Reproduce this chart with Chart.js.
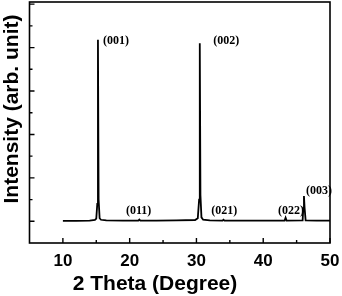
<!DOCTYPE html>
<html>
<head>
<meta charset="utf-8">
<script src="https://cdn.jsdelivr.net/npm/chart.js@4/dist/chart.umd.min.js"></script>
<style>
  html, body { margin: 0; padding: 0; background: #fff; }
  #wrap { width: 342px; height: 296px; }
</style>
</head>
<body>
<div id="wrap"><canvas id="c" width="342" height="296"></canvas></div>
<script>
// ---- data ----
const theta = [10.0, 12.0, 14.0, 14.8, 15.0, 15.15, 15.25, 15.35, 15.5, 15.7, 16.5, 19.0,
  21.3, 21.45, 21.6, 24.0, 27.0, 29.8, 30.2, 30.4, 30.5, 30.6, 30.75, 31.0, 32.0,
  33.9, 34.05, 34.2, 37.0, 40.0, 43.2, 43.35, 43.5, 45.9, 46.0, 46.1, 46.2, 46.35, 48.0, 50.0];
const intensity = [0.01, 0.01, 0.015, 0.03, 0.06, 0.4, 4.18, 0.5, 0.07, 0.035, 0.02, 0.015,
  0.015, 0.04, 0.015, 0.015, 0.02, 0.03, 0.07, 0.5, 4.10, 0.6, 0.09, 0.035, 0.02,
  0.015, 0.035, 0.015, 0.015, 0.015, 0.015, 0.08, 0.015, 0.02, 0.3, 0.58, 0.3, 0.02, 0.015, 0.015];

const xTickValues = [10, 20, 30, 40, 50];
const xMinorValues = [15, 25, 35, 45];
const yTickValues = [0, 1, 2, 3, 4, 5];
const yMinorValues = [0.5, 1.5, 2.5, 3.5, 4.5];

const peakLabels = ['(001)', '(002)', '(011)', '(021)', '(022)', '(003)'];
const peakLabelTheta = [16.0, 32.5, 19.45, 32.2, 42.2, 46.4];
const peakLabelIntensity = [4.15, 4.15, 0.25, 0.25, 0.25, 0.69];

const xTitle = '2 Theta (Degree)';
const yTitle = 'Intensity (arb. unit)';

// ---- plugin: frame, inward ticks, annotations, titles ----
const decor = {
  id: 'decor',
  afterDatasetsDraw(chart) {
    const ctx = chart.ctx;
    const a = chart.chartArea;
    const xs = chart.scales.x, ys = chart.scales.y;
    ctx.save();
    ctx.strokeStyle = '#000';
    ctx.lineWidth = 1.6;
    ctx.strokeRect(a.left, a.top, a.right - a.left, a.bottom - a.top);
    ctx.lineWidth = 1.4;
    ctx.beginPath();
    xTickValues.forEach(v => { const p = xs.getPixelForValue(v); ctx.moveTo(p, a.bottom); ctx.lineTo(p, a.bottom - 5); });
    xMinorValues.forEach(v => { const p = xs.getPixelForValue(v); ctx.moveTo(p, a.bottom); ctx.lineTo(p, a.bottom - 3); });
    yTickValues.forEach(v => { const p = ys.getPixelForValue(v); ctx.moveTo(a.left, p); ctx.lineTo(a.left + 5, p); });
    yMinorValues.forEach(v => { const p = ys.getPixelForValue(v); ctx.moveTo(a.left, p); ctx.lineTo(a.left + 3, p); });
    ctx.stroke();

    ctx.fillStyle = '#000';
    ctx.font = 'bold 12px "Liberation Serif", "Times New Roman", serif';
    ctx.textAlign = 'left';
    ctx.textBaseline = 'middle';
    peakLabels.forEach((t, i) => {
      ctx.fillText(t, xs.getPixelForValue(peakLabelTheta[i]), ys.getPixelForValue(peakLabelIntensity[i]));
    });

    ctx.font = 'bold 21px "Liberation Sans", Arial, sans-serif';
    ctx.textAlign = 'center';
    ctx.textBaseline = 'middle';
    ctx.fillText(xTitle, 155, 284);
    ctx.translate(12, 109);
    ctx.rotate(-Math.PI / 2);
    ctx.fillText(yTitle, 0, 0);
    ctx.restore();
  }
};

new Chart(document.getElementById('c'), {
  type: 'line',
  data: {
    datasets: [{
      data: theta.map((t, i) => ({ x: t, y: intensity[i] })),
      borderColor: '#000',
      borderWidth: 1.8,
      pointRadius: 0,
      tension: 0,
      fill: false
    }]
  },
  options: {
    responsive: false,
    animation: false,
    events: [],
    layout: { padding: { top: 2, right: 0, left: 0, bottom: 0 } },
    plugins: { legend: { display: false }, tooltip: { enabled: false } },
    scales: {
      x: {
        type: 'linear',
        min: 5, max: 50,
        afterBuildTicks: s => { s.ticks = xTickValues.map(v => ({ value: v })); },
        afterFit: s => { s.height = 53; s.paddingRight = 12; },
        grid: { display: false, drawTicks: false },
        border: { display: false },
        ticks: {
          padding: 8,
          color: '#000',
          maxRotation: 0,
          autoSkip: false,
          font: { family: '"Liberation Sans", Arial, sans-serif', size: 17, weight: 'bold' }
        }
      },
      y: {
        type: 'linear',
        min: -0.5, max: 5.05,
        afterBuildTicks: s => { s.ticks = yTickValues.map(v => ({ value: v })); },
        afterFit: s => { s.width = 29.5; },
        grid: { display: false, drawTicks: false },
        border: { display: false },
        ticks: { display: false }
      }
    }
  },
  plugins: [decor]
});
</script>
</body>
</html>
